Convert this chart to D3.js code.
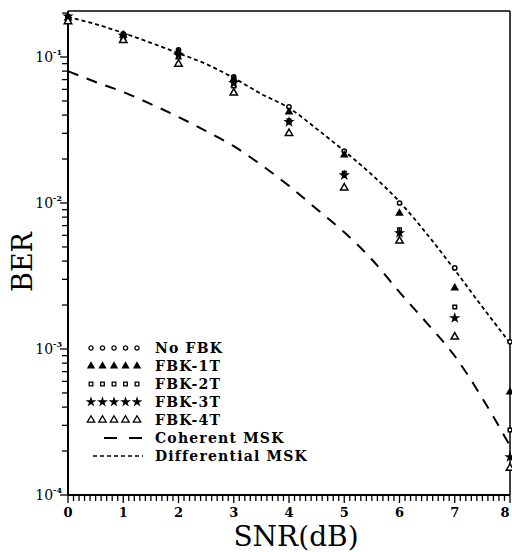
<!DOCTYPE html>
<html><head><meta charset="utf-8">
<script src="https://cdn.jsdelivr.net/npm/d3@7"></script>
<style>body{margin:0;background:#fff}svg{display:block}</style>
</head><body>
<svg id="c" width="512" height="552"></svg>
<script>
// ---- data ----
const snrPoints = [0,1,2,3,4,5,6,7,8];
const noFbk = [0.19, 0.144, 0.112, 0.073, 0.0455, 0.0227, 0.0100, 0.00359, 0.00112];
const fbk1T = [0.185, 0.141, 0.108, 0.0707, 0.042, 0.0213, 0.0085, 0.00262, 0.000507];
const fbk2T = [0.18, 0.137, 0.100, 0.0633, 0.0365, 0.0160, 0.00654, 0.00194, 0.000279];
const fbk3T = [0.19, 0.140, 0.103, 0.0664, 0.0359, 0.0155, 0.00623, 0.00163, 0.000182];
const fbk4T = [0.175, 0.130, 0.0895, 0.0567, 0.0300, 0.0127, 0.0055, 0.00121, 0.000153];
const snrCurve = [0,0.5,1,1.5,2,2.5,3,3.5,4,4.5,5,5.5,6,6.5,7,7.5,8];
const coherentMSK = [0.080,0.0674,0.0575,0.0476,0.0388,0.0311,0.0245,0.0182,0.0131,0.0091,0.0063,0.0041,0.00245,0.0015,0.000895,0.00046,0.000217];
const differentialMSK = [0.188,0.168,0.146,0.125,0.106,0.0895,0.0718,0.0558,0.0448,0.0322,0.0227,0.0156,0.0102,0.0061,0.00348,0.00194,0.0011];
const xDomain = [0, 8];
const yDomain = [1e-4, 0.2065];
const xTickLabels = ["0","1","2","3","4","5","6","7","8"];
const yTickValues = [1e-1, 1e-2, 1e-3, 1e-4];
const yTickExps = ["-1","-2","-3","-4"];
const legendLabels = ["No FBK","FBK-1T","FBK-2T","FBK-3T","FBK-4T","Coherent MSK","Differential MSK"];

// ---- layout ----
const L = 68, R = 510, T = 11, B = 495;
const svg = d3.select("#c");
const x = d3.scaleLinear().domain(xDomain).range([L, R]);
const y = d3.scaleLog().domain(yDomain).range([B, T]);

svg.append("defs").append("clipPath").attr("id","clip")
  .append("rect").attr("x", L).attr("y", T-8).attr("width", R-L+2).attr("height", B-T+8);

// frame
svg.append("line").attr("x1",L).attr("x2",R).attr("y1",T).attr("y2",T).attr("stroke","#000").attr("stroke-width",1.5);
svg.append("line").attr("x1",R).attr("x2",R).attr("y1",T).attr("y2",B).attr("stroke","#000").attr("stroke-width",1.5);

// x axis
const xMinor = d3.range(0, 80.5, 1).map(d => d/10);
const xAx = svg.append("g").attr("transform", `translate(0,${B})`);
xAx.append("line").attr("x1",L).attr("x2",R).attr("stroke","#000").attr("stroke-width",2);
xAx.selectAll("line.t").data(xMinor).join("line").attr("class","t")
  .attr("x1", d=>x(d)).attr("x2", d=>x(d)).attr("y1",0)
  .attr("y2", d=> Math.abs(d-Math.round(d))<1e-6 ? 8 : 6)
  .attr("stroke","#000").attr("stroke-width",1.3);
xAx.selectAll("text").data(xTickLabels).join("text")
  .attr("x",(d,i)=>Math.min(x(i), 505)).attr("y",22).attr("text-anchor","middle")
  .attr("font-family","DejaVu Serif").attr("font-weight","bold").attr("font-size",13).text(d=>d);
svg.append("text").attr("x",296).attr("y",546).attr("text-anchor","middle")
  .attr("font-family","DejaVu Serif").attr("font-size",28).text("SNR(dB)");

// y axis
const yAx = svg.append("g").attr("transform", `translate(${L},0)`);
yAx.append("line").attr("y1",T).attr("y2",B).attr("stroke","#000").attr("stroke-width",2);
const yMinor = [];
[1e-4,1e-3,1e-2,1e-1].forEach(dec => { for (let k=1;k<10;k++){ const v=dec*k; if(v<=yDomain[1]) yMinor.push(v);} });
yAx.selectAll("line.t").data(yMinor).join("line").attr("class","t")
  .attr("y1",d=>y(d)).attr("y2",d=>y(d)).attr("x1",0)
  .attr("x2",d=> yTickValues.some(t=>Math.abs(t-d)/t<1e-6) ? -8 : -6)
  .attr("stroke","#000").attr("stroke-width",1.3);
const yl = yAx.selectAll("text").data(yTickValues).join("text")
  .attr("x",-6).attr("y",d=>y(d)+5).attr("text-anchor","end")
  .attr("font-family","DejaVu Serif").attr("font-size",14);
yl.append("tspan").text("10");
yl.append("tspan").attr("dy",-7).attr("font-size",8).attr("font-weight","bold").text((d,i)=>yTickExps[i]);
svg.append("text").attr("transform","translate(32,262) rotate(-90)").attr("text-anchor","middle")
  .attr("font-family","DejaVu Serif").attr("font-size",27).text("BER");

// curves
const plot = svg.append("g").attr("clip-path","url(#clip)");
const line = d3.line().x(d=>x(d[0])).y(d=>y(d[1])).curve(d3.curveMonotoneX);
plot.append("path").datum(snrCurve.map((s,i)=>[s,coherentMSK[i]])).attr("d",line)
  .attr("fill","none").attr("stroke","#000").attr("stroke-width",2).attr("stroke-dasharray","11,9");
plot.append("path").datum(snrCurve.map((s,i)=>[s,differentialMSK[i]])).attr("d",line)
  .attr("fill","none").attr("stroke","#000").attr("stroke-width",1.8).attr("stroke-dasharray","4,3");

// markers
const sym = {
  circle: d3.symbol().type(d3.symbolCircle).size(14),
  triF: d3.symbol().type(d3.symbolTriangle).size(16),
  square: d3.symbol().type(d3.symbolSquare).size(13),
  star: d3.symbol().type(d3.symbolStar).size(14),
  triO: d3.symbol().type(d3.symbolTriangle).size(24)
};
const series = [
  {vals: noFbk, s: sym.circle, fill: "#fff"},
  {vals: fbk1T, s: sym.triF, fill: "#000"},
  {vals: fbk2T, s: sym.square, fill: "#fff"},
  {vals: fbk3T, s: sym.star, fill: "#000"},
  {vals: fbk4T, s: sym.triO, fill: "#fff"}
];
const mk = svg.append("g");
series.forEach(sr => {
  mk.selectAll(null).data(snrPoints.map((s,i)=>[s,sr.vals[i]])).join("path")
    .attr("transform", d=>`translate(${x(d[0])},${y(d[1])})`)
    .attr("d", sr.s()).attr("fill", sr.fill).attr("stroke","#000").attr("stroke-width",1.5);
});

// legend
const lg = svg.append("g");
const rowY = i => 348 + i*18;
series.forEach((sr,i) => {
  d3.range(5).forEach(k => {
    lg.append("path").attr("transform",`translate(${91+k*11.5},${rowY(i)})`)
      .attr("d", sr.s()).attr("fill", sr.fill).attr("stroke","#000").attr("stroke-width",1.3);
  });
});
lg.append("line").attr("x1",104).attr("x2",143).attr("y1",rowY(5)).attr("y2",rowY(5))
  .attr("stroke","#000").attr("stroke-width",2).attr("stroke-dasharray","13,12");
lg.append("line").attr("x1",93).attr("x2",143).attr("y1",rowY(6)).attr("y2",rowY(6))
  .attr("stroke","#000").attr("stroke-width",1.5).attr("stroke-dasharray","4,3");
lg.selectAll("text").data(legendLabels).join("text")
  .attr("x",155).attr("y",(d,i)=>rowY(i)+5).attr("font-family","DejaVu Serif")
  .attr("font-weight","bold").attr("font-size",14).attr("letter-spacing",1.2).text(d=>d);
</script>
</body></html>
